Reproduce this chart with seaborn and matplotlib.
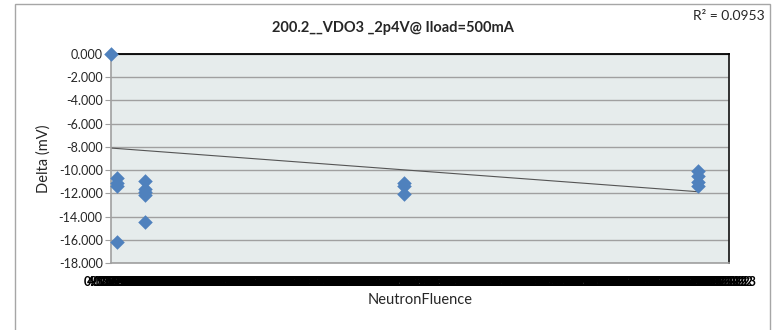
import numpy as np
import pandas as pd
import seaborn as sns
import matplotlib.pyplot as plt
from matplotlib.patches import Rectangle
from matplotlib.ticker import MultipleLocator, FormatStrFormatter

# category slots on the Excel text axis (one per fluence row)
n_categories = 220
fluence_min, fluence_max = 0.0, 1.0e13

# measurement points: category slot and delta (mV)
point_slot = [0, 2, 2, 2, 2, 12, 12, 12, 12, 12, 104, 104, 104, 208, 208, 208, 208]
point_delta = [0.0, -10.68, -11.14, -11.37, -16.2,
               -10.9, -11.6, -11.86, -12.15, -14.5,
               -11.14, -11.4, -12.1,
               -10.05, -10.5, -11.0, -11.37]

# linear trendline as drawn by Excel (end points)
trend_slot = [0, 208]
trend_delta = [-8.1, -11.86]
r_squared_text = "R² = 0.0953"

title = "200.2__VDO3 _2p4V@ Iload=500mA"

df = pd.DataFrame({"slot": point_slot, "delta": point_delta})
category_labels = [f"{v:.2E}" for v in np.linspace(fluence_min, fluence_max, n_categories)]

sns.set_theme(style="white")
plt.rcParams["font.family"] = ["Lato", "DejaVu Sans"]

fig = plt.figure(figsize=(7.78, 3.3), dpi=100)
ax = fig.add_axes([111 / 778, 1 - 263 / 330, (729 - 111) / 778, (263 - 54) / 330])

# outer chart border
fig.patches.append(Rectangle((15 / 778, -0.05), (770 - 15) / 778, 1 - 4 / 330 + 0.05,
                             transform=fig.transFigure, fill=False,
                             edgecolor="#A6A6A6", linewidth=1.0))

ax.set_facecolor("#E6ECEC")
ax.plot(trend_slot, trend_delta, color="#555555", linewidth=0.8, zorder=2)
sns.scatterplot(data=df, x="slot", y="delta", marker="D", s=55, color="#4F81BD",
                edgecolor="#4F81BD", linewidth=0, ax=ax, zorder=3, clip_on=False)

ax.set_ylim(-18, 0)
ax.set_xlim(0, n_categories - 1)
ax.yaxis.set_major_locator(MultipleLocator(2))
ax.yaxis.set_major_formatter(FormatStrFormatter("%.3f"))
ax.grid(axis="y", color="#A0A0A0", linewidth=1.0)
ax.set_axisbelow(True)

# Excel crams every category label onto the axis, giving a solid black band
ax.set_xticks(range(n_categories))
ax.set_xticklabels(category_labels, fontsize=9, fontweight="bold", rotation=0, color="black")
ax.tick_params(axis="x", length=3, width=0.5, color="#A0A0A0", pad=6)
ax.tick_params(axis="y", labelsize=9, length=4, width=0.8, color="#A0A0A0", pad=2, left=True)

for side in ["left", "bottom"]:
    ax.spines[side].set_color("#A0A0A0")
    ax.spines[side].set_linewidth(1.2)
ax.spines["top"].set_color("black")
ax.spines["top"].set_linewidth(1.3)
ax.spines["right"].set_color("#222222")
ax.spines["right"].set_linewidth(1.3)

ax.set_xlabel("NeutronFluence", fontsize=10.5, labelpad=4)
ax.set_ylabel("Delta (mV)", fontsize=10.5, labelpad=6)
fig.text(393 / 778, 1 - 28 / 330, title, ha="center", va="center",
         fontsize=10.5, fontweight="bold")
fig.text(765 / 778, 1 - 16 / 330, r_squared_text, ha="right", va="center", fontsize=10)

fig.savefig("out.png", dpi=100)
